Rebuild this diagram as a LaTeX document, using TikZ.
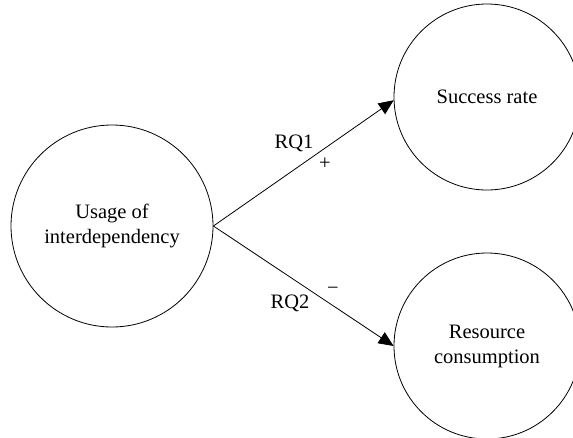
\documentclass[tikz,border=0pt]{standalone}
\usepackage{fontspec}
\setmainfont{Liberation Serif}
\usetikzlibrary{arrows.meta}
\begin{document}
\begin{tikzpicture}[x=1pt,y=1pt,
  concept/.style={draw=black,line width=0.8pt,circle,inner sep=0pt,align=center,
    font=\fontsize{20.5}{25}\selectfont},
  link/.style={line width=0.8pt,-{Triangle[length=15pt,width=13pt]}},
  lbl/.style={inner sep=0pt,font=\fontsize{20.5}{24}\selectfont}]
\useasboundingbox (0,0) rectangle (573,-437);
\clip (0,0) rectangle (573,-437);
\node[concept,minimum size=202pt] (use) at (112,-226) {Usage of\\interdependency};
\node[concept,minimum size=186pt] (succ) at (487,-97) {Success rate};
\node[concept,minimum size=186pt] (res) at (487,-346) {Resource\\consumption};
\draw[link] (use.east) -- (succ.182);
\draw[link] (use.east) -- (res.west);
\node[lbl] (rq1) at (294,-143) {RQ1};
\node[lbl] (plus) at (325,-164) {+};
\node[lbl] (rq2) at (290,-303) {RQ2};
\node[lbl] (minus) at (333,-291) {\textminus};
\end{tikzpicture}
\end{document}
